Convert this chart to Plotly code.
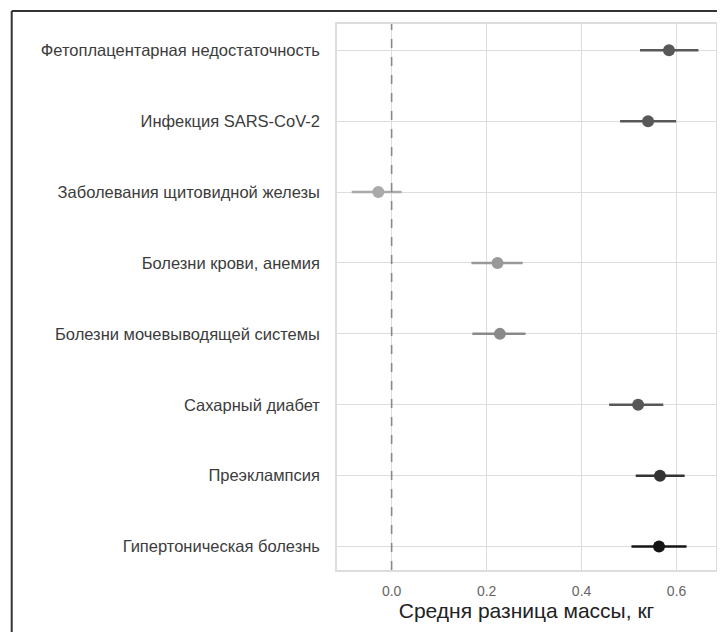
import plotly.graph_objects as go

categories = [
    "Фетоплацентарная недостаточность",
    "Инфекция SARS-CoV-2",
    "Заболевания щитовидной железы",
    "Болезни крови, анемия",
    "Болезни мочевыводящей системы",
    "Сахарный диабет",
    "Преэклампсия",
    "Гипертоническая болезнь",
]
mean_diff = [0.584, 0.540, -0.028, 0.223, 0.228, 0.519, 0.565, 0.563]
ci_low = [0.523, 0.481, -0.084, 0.168, 0.170, 0.458, 0.514, 0.505]
ci_high = [0.646, 0.599, 0.021, 0.276, 0.282, 0.572, 0.617, 0.621]
colors = ["#585858", "#585858", "#aaaaaa", "#999999", "#8a8a8a", "#575757", "#333333", "#151515"]
x_ticks = [0.0, 0.2, 0.4, 0.6]
x_title = "Средня разница массы, кг"

fig = go.Figure()
for cat, m, lo, hi, c in zip(categories, mean_diff, ci_low, ci_high, colors):
    fig.add_trace(go.Scatter(
        x=[m], y=[cat], mode="markers",
        marker=dict(color=c, size=12),
        error_x=dict(type="data", symmetric=False, array=[hi - m], arrayminus=[m - lo],
                     color=c, thickness=2.5, width=0),
        showlegend=False,
    ))

# page body has an 8px margin, so the figure is slightly smaller than the window
W, H = 717, 624
ml, mr, mt, mb = 329, 7, 16, 62
pw, ph = W - ml - mr, H - mt - mb

fig.add_vline(x=0, line=dict(color="#888888", width=1.6, dash="dash"))

# outer frame lines (left and top)
fx = (2 - ml) / pw
fy = (H - mb - 3) / ph
fig.add_shape(type="line", xref="paper", yref="paper", x0=fx, x1=fx, y0=fy, y1=-mb / ph - 0.05,
              line=dict(color="#333333", width=2))
fig.add_shape(type="line", xref="paper", yref="paper", x0=fx, x1=(W - ml) / pw + 0.05, y0=fy, y1=fy,
              line=dict(color="#333333", width=2))

fig.update_layout(
    width=W, height=H,
    margin=dict(l=ml, r=mr, t=mt, b=mb),
    paper_bgcolor="white", plot_bgcolor="white",
    font=dict(family="Liberation Sans, Arial, sans-serif", color="#3a3a3a"),
    xaxis=dict(
        range=[-0.115, 0.683], tickvals=x_ticks, ticktext=[f"{v:.1f}" for v in x_ticks],
        showgrid=True, gridcolor="#dddddd", gridwidth=1, zeroline=False,
        showline=True, linecolor="#dddddd", linewidth=1.5, mirror=True,
        tickfont=dict(size=14, color="#666666"),
        title=dict(text=x_title, font=dict(size=21, color="#222222"), standoff=5),
        ticks="", ticklabelstandoff=7,
    ),
    yaxis=dict(
        type="category", categoryorder="array", categoryarray=categories,
        range=[7.33, -0.37],
        showgrid=True, gridcolor="#dddddd", gridwidth=1, zeroline=False,
        showline=True, linecolor="#dddddd", linewidth=1.5, mirror=True,
        tickfont=dict(size=16.5, color="#3c3c3c"),
        ticks="", ticklabelstandoff=12,
    ),
)

fig.write_html("out.html")
